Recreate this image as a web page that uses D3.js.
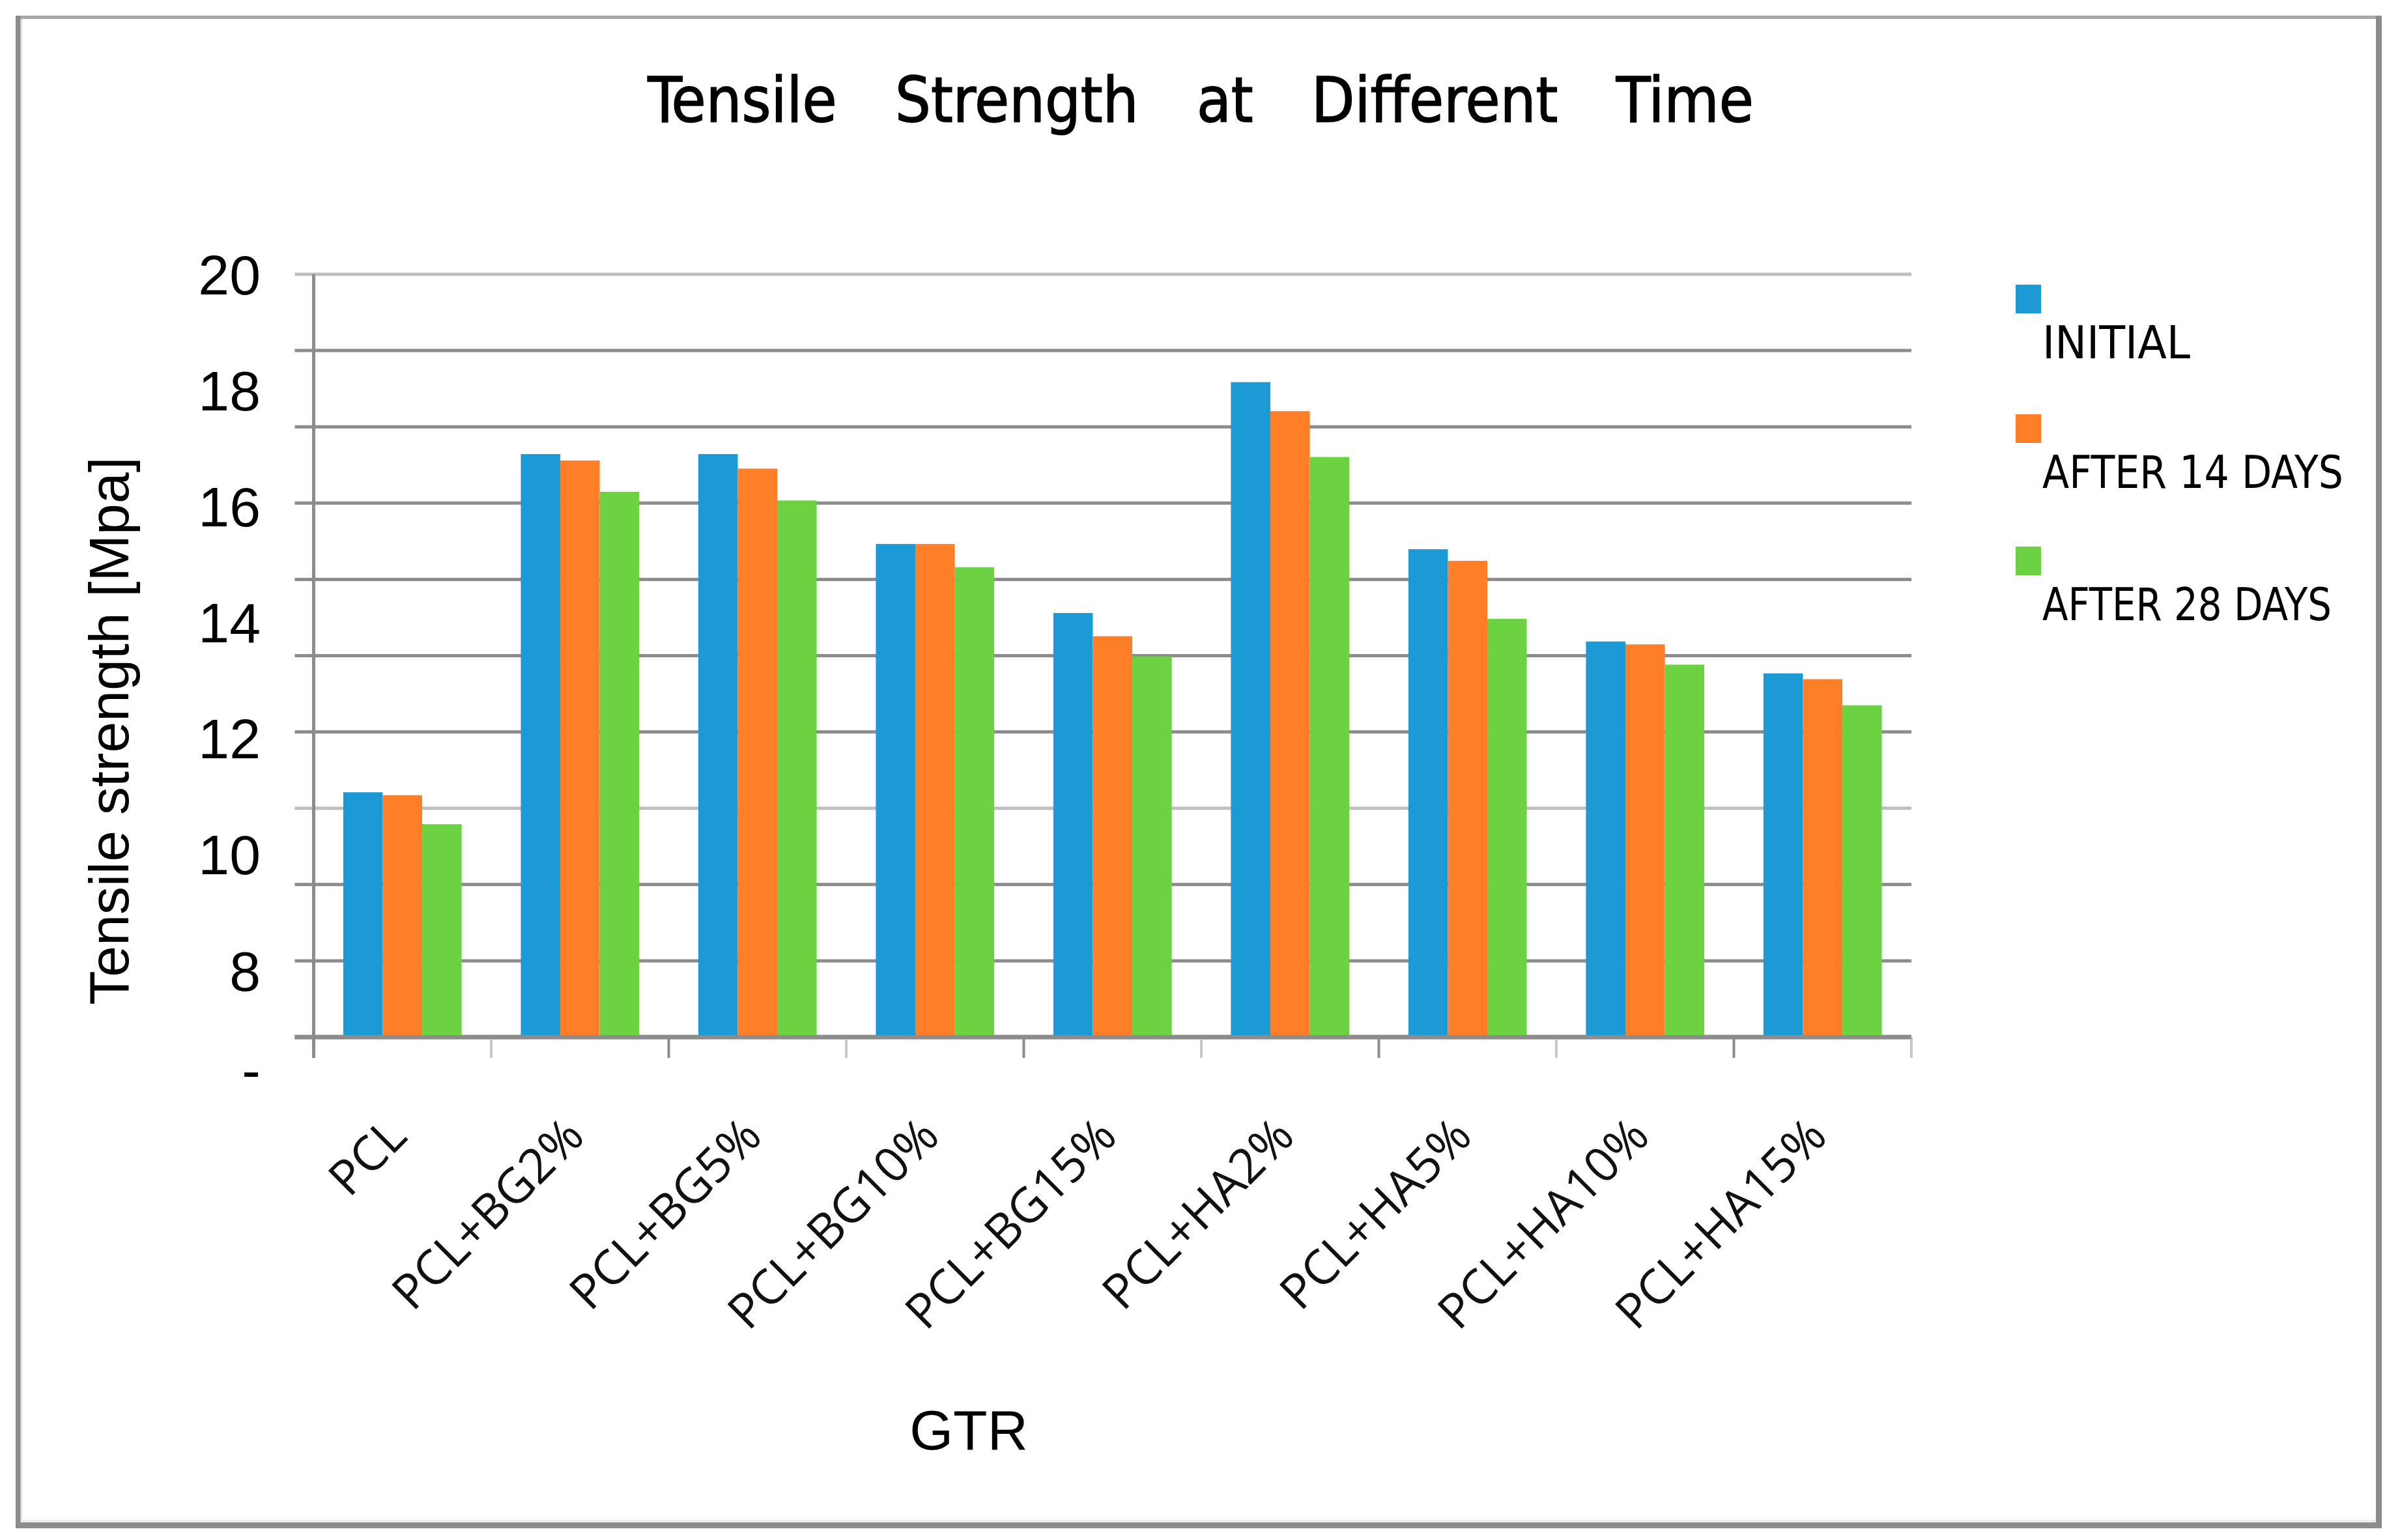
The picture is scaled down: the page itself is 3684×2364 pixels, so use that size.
<!DOCTYPE html>
<html>
<head>
<meta charset="utf-8">
<script src="https://cdn.jsdelivr.net/npm/d3@7"></script>
<style>
  html, body { margin: 0; padding: 0; background: #ffffff; }
  svg { display: block; }
</style>
</head>
<body>
<svg id="chart" width="3684" height="2364"></svg>
<script>
// ---------------- data ----------------
const categories = ["PCL", "PCL+BG2%", "PCL+BG5%", "PCL+BG10%", "PCL+BG15%",
                    "PCL+HA2%", "PCL+HA5%", "PCL+HA10%", "PCL+HA15%"];
const seriesNames = ["INITIAL", "AFTER 14 DAYS", "AFTER 28 DAYS"];
const initialValues = [11.07, 16.90, 16.90, 15.35, 14.16, 18.14, 15.26, 13.67, 13.12];
const after14Values = [11.02, 16.79, 16.65, 15.35, 13.76, 17.64, 15.06, 13.62, 13.02];
const after28Values = [10.52, 16.25, 16.10, 14.95, 13.41, 16.85, 14.06, 13.27, 12.57];
const yTickValues = [20, 18, 16, 14, 12, 10, 8, 6.3];
const yTickLabels = ["20", "18", "16", "14", "12", "10", "8", "-"];
const titleText = "Tensile Strength at Different Time";
const yAxisTitle = "Tensile strength [Mpa]";
const xAxisTitle = "GTR";

// ---------------- layout / style ----------------
const colors = ["#1b9ad6", "#ff7e27", "#6cd242"];
const plot = { left: 481.5, right: 2934, top: 421, bottom: 1592 };
const yMin = 6.85, yMax = 20;
const gridCount = 10;
const legendTextLengths = [227, 462, 444];

const svg = d3.select("#chart");

// outer frame
const frame = svg.append("g");
frame.append("rect").attr("x", 0).attr("y", 0).attr("width", 3684).attr("height", 2364).attr("fill", "#ffffff");
frame.append("line").attr("x1", 24).attr("x2", 3656).attr("y1", 26.5).attr("y2", 26.5)
  .attr("stroke", "#a6a6a6").attr("stroke-width", 5);
frame.append("line").attr("x1", 28).attr("x2", 28).attr("y1", 24).attr("y2", 2346)
  .attr("stroke", "#8c8c8c").attr("stroke-width", 8);
frame.append("line").attr("x1", 33).attr("x2", 33).attr("y1", 29).attr("y2", 2337)
  .attr("stroke", "#e4e4e4").attr("stroke-width", 3);
frame.append("line").attr("x1", 3651.5).attr("x2", 3651.5).attr("y1", 24).attr("y2", 2346)
  .attr("stroke", "#8c8c8c").attr("stroke-width", 9);
frame.append("line").attr("x1", 24).attr("x2", 3656).attr("y1", 2341.5).attr("y2", 2341.5)
  .attr("stroke", "#8c8c8c").attr("stroke-width", 9);
frame.append("line").attr("x1", 33).attr("x2", 3647).attr("y1", 2335).attr("y2", 2335)
  .attr("stroke", "#ececec").attr("stroke-width", 4);

// scales
const x0 = d3.scaleBand().domain(categories).range([plot.left, plot.right]).padding(0);
const x1 = d3.scaleBand().domain(seriesNames).range([0, x0.bandwidth()]).paddingInner(0).paddingOuter(0.75);
const y = d3.scaleLinear().domain([yMin, yMax]).range([plot.bottom, plot.top]);

// gridlines (evenly spaced between top and base)
const gridValues = d3.range(gridCount + 1).map(i => yMin + i * (yMax - yMin) / gridCount);
const grid = svg.append("g");
grid.selectAll("line").data(gridValues).enter().append("line")
  .attr("x1", plot.left - 29).attr("x2", plot.right)
  .attr("y1", d => y(d)).attr("y2", d => y(d))
  .attr("stroke", (d, i) => (i === gridCount || i === 3) ? "#bfbfbf" : "#8c8c8c")
  .attr("stroke-width", (d, i) => i === 0 ? 7 : 5);

// y axis line
svg.append("line").attr("x1", plot.left).attr("x2", plot.left)
  .attr("y1", plot.top).attr("y2", plot.bottom + 32)
  .attr("stroke", "#8c8c8c").attr("stroke-width", 5);

// x axis ticks (band boundaries)
const boundaries = categories.map(c => x0(c)).concat([plot.right]);
svg.append("g").selectAll("line").data(boundaries).enter().append("line")
  .attr("x1", d => d).attr("x2", d => d)
  .attr("y1", plot.bottom).attr("y2", plot.bottom + 32)
  .attr("stroke", (d, i) => i % 2 === 1 ? "#c8c8c8" : "#8c8c8c")
  .attr("stroke-width", 4);

// bars
const seriesValues = [initialValues, after14Values, after28Values];
const barData = [];
categories.forEach((c, ci) => {
  seriesNames.forEach((s, si) => {
    barData.push({ cat: c, series: s, si: si, value: seriesValues[si][ci] });
  });
});
svg.append("g").selectAll("rect").data(barData).enter().append("rect")
  .attr("x", d => x0(d.cat) + x1(d.series))
  .attr("width", x1.bandwidth())
  .attr("y", d => y(d.value))
  .attr("height", d => y(yMin) - y(d.value) - 2.5)
  .attr("fill", d => colors[d.si]);

// baseline (drawn over bars bottoms)
svg.append("line").attr("x1", plot.left - 29).attr("x2", plot.right)
  .attr("y1", plot.bottom).attr("y2", plot.bottom)
  .attr("stroke", "#8c8c8c").attr("stroke-width", 6);

// y tick labels
svg.append("g").selectAll("text").data(yTickValues).enter().append("text")
  .attr("x", 400).attr("y", d => y(d))
  .attr("dy", "0.36em")
  .attr("text-anchor", "end")
  .attr("font-family", "'Liberation Sans', Arial, sans-serif")
  .attr("font-size", 86)
  .attr("fill", "#000")
  .text((d, i) => yTickLabels[i]);

// x tick labels (rotated)
svg.append("g").selectAll("text").data(categories).enter().append("text")
  .attr("transform", d => `translate(${x0(d) + x0.bandwidth() / 2 + 10},1748) rotate(-45)`)
  .attr("text-anchor", "end")
  .attr("font-family", "'Open Sans', sans-serif")
  .attr("font-size", 74)
  .attr("fill", "#111")
  .text(d => d);

// title
svg.append("text")
  .attr("x", 1843).attr("y", 187)
  .attr("text-anchor", "middle")
  .attr("font-family", "'DejaVu Sans Condensed', 'DejaVu Sans', sans-serif")
  .attr("font-stretch", "condensed")
  .attr("font-size", 96)
  .attr("word-spacing", 62)
  .attr("fill", "#000")
  .attr("stroke", "#000")
  .attr("stroke-width", 1.5)
  .text(titleText);

// y axis title
svg.append("text")
  .attr("transform", "translate(197,1122) rotate(-90)")
  .attr("text-anchor", "middle")
  .attr("font-family", "'Liberation Sans', Arial, sans-serif")
  .attr("font-size", 86)
  .attr("fill", "#000")
  .text(yAxisTitle);

// x axis title
svg.append("text")
  .attr("x", 1487).attr("y", 2225)
  .attr("text-anchor", "middle")
  .attr("font-family", "'Liberation Sans', Arial, sans-serif")
  .attr("font-size", 86)
  .attr("fill", "#000")
  .text(xAxisTitle);

// legend
const legendTops = [437, 636, 839];
const legend = svg.append("g");
seriesNames.forEach((s, i) => {
  legend.append("rect").attr("x", 3094).attr("y", legendTops[i])
    .attr("width", 39).attr("height", 44).attr("fill", colors[i]);
  legend.append("text")
    .attr("x", 3135).attr("y", legendTops[i] + 113)
    .attr("font-family", "'DejaVu Sans Condensed', 'DejaVu Sans', sans-serif")
    .attr("font-stretch", "condensed")
    .attr("font-size", 70)
    .attr("textLength", legendTextLengths[i])
    .attr("lengthAdjust", "spacingAndGlyphs")
    .attr("fill", "#000")
    .text(s);
});
</script>
</body>
</html>
